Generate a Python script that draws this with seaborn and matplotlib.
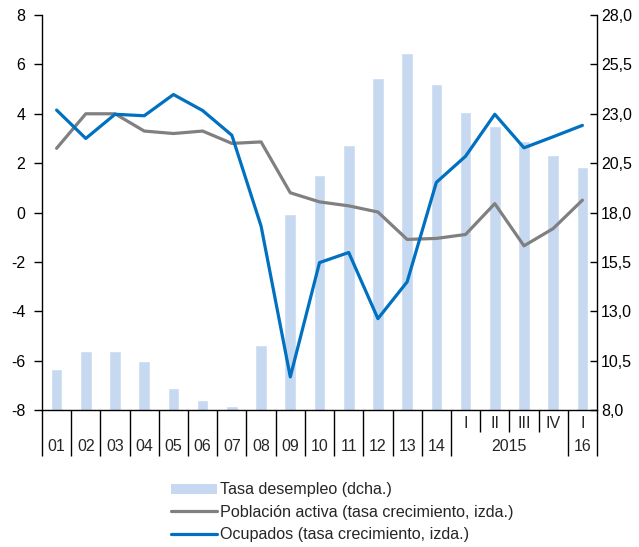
import numpy as np
import pandas as pd
import matplotlib
matplotlib.use("Agg")
import matplotlib.pyplot as plt
from matplotlib.patches import Patch
from matplotlib.lines import Line2D
from matplotlib.transforms import blended_transform_factory
import seaborn as sns

sns.set_style("white")
plt.rcParams["font.family"] = ["Liberation Sans", "DejaVu Sans"]
plt.rcParams["axes.unicode_minus"] = False

# Periods: annual 2001-2014, then quarters of 2015 and 2016-I
periods = ["01", "02", "03", "04", "05", "06", "07", "08", "09", "10",
           "11", "12", "13", "14", "2015-I", "2015-II", "2015-III",
           "2015-IV", "2016-I"]
annual_labels = ["01", "02", "03", "04", "05", "06", "07", "08", "09", "10",
                 "11", "12", "13", "14"]
quarter_labels = ["I", "II", "III", "IV", "I"]
quarter_years = ["2015", "2015", "2015", "2015", "16"]

# Unemployment rate (%, right axis)
unemployment = [10.1, 11.0, 11.0, 10.5, 9.1, 8.5, 8.2, 11.3, 17.9, 19.9,
                21.4, 24.8, 26.1, 24.5, 23.1, 22.4, 21.6, 20.9, 20.3]
# Labour force, growth rate (%, left axis)
labour_force = [2.6, 4.0, 4.0, 3.3, 3.2, 3.3, 2.8, 2.86, 0.8, 0.43,
                0.27, 0.02, -1.09, -1.05, -0.89, 0.36, -1.35, -0.65, 0.5]
# Employed, growth rate (%, left axis)
employed = [4.15, 3.0, 3.98, 3.92, 4.78, 4.13, 3.13, -0.55, -6.66, -2.03,
            -1.62, -4.3, -2.81, 1.22, 2.28, 3.98, 2.62, 3.07, 3.53]

df = pd.DataFrame({"period": periods, "pos": np.arange(len(periods)),
                   "unemployment": unemployment,
                   "labour_force": labour_force, "employed": employed})

BAR = "#C6D9F0"
GREY = "#808080"
BLUE = "#0070C0"

fig = plt.figure(figsize=(6.39, 5.47), dpi=100)
ax = fig.add_axes([0.0657, 0.2505, 0.8686, 0.722])

# Bars on the primary axes, whose scale is shown on the right
sns.barplot(data=df, x="period", y="unemployment", ax=ax, color=BAR,
            width=0.4, saturation=1, order=periods)
ax.set_xlabel("")
ax.set_ylabel("")

# Growth-rate lines on the twin axes, scale on the left
ax2 = ax.twinx()
sns.lineplot(data=df, x="pos", y="labour_force", ax=ax2, color=GREY,
             linewidth=2.3, legend=False)
sns.lineplot(data=df, x="pos", y="employed", ax=ax2, color=BLUE,
             linewidth=2.3, legend=False)
ax2.set_xlabel("")
ax2.set_ylabel("")

# Right-hand scale (unemployment)
ax.set_ylim(8, 28)
ax.set_xlim(-0.5, len(periods) - 0.5)
ax.yaxis.tick_right()
ax.yaxis.set_label_position("right")
ax.set_yticks([8, 10.5, 13, 15.5, 18, 20.5, 23, 25.5, 28])
ax.set_yticklabels([f"{v:.1f}".replace(".", ",") for v in ax.get_yticks()])
ax.tick_params(axis="y", direction="in", length=5, width=1, pad=3,
               labelsize=11.5, colors="black", right=True, left=False,
               labelright=True, labelleft=False)

# Category separators below the axis
long_sep = [i - 0.5 for i in range(15)] + [17.5, 18.5]
short_sep = [14.5, 15.5, 16.5]
ax.set_xticks(long_sep)
ax.set_xticks(short_sep, minor=True)
ax.set_xticklabels([])
ax.tick_params(axis="x", which="major", direction="out", length=33,
               width=1, colors="black", bottom=True)
ax.tick_params(axis="x", which="minor", direction="out", length=16,
               width=1, colors="black", bottom=True)
for s in ["top", "left"]:
    ax.spines[s].set_visible(False)
for s in ["right", "bottom"]:
    ax.spines[s].set_color("black")
    ax.spines[s].set_linewidth(1)

# Left-hand scale (growth rates)
ax2.set_ylim(-8, 8)
ax2.set_xlim(-0.5, len(periods) - 0.5)
ax2.yaxis.tick_left()
ax2.yaxis.set_label_position("left")
ax2.set_yticks(np.arange(-8, 9, 2))
ax2.set_yticklabels([str(v) for v in range(-8, 9, 2)])
ax2.tick_params(axis="y", direction="out", length=6, width=1, pad=6,
                labelsize=11.5, colors="black", left=True, right=False,
                labelleft=True, labelright=False)
for s in ["top", "right", "bottom"]:
    ax2.spines[s].set_visible(False)
ax2.spines["left"].set_color("black")
ax2.spines["left"].set_linewidth(1)

# Category labels
trans = blended_transform_factory(ax.transData, ax.transAxes)
low_y = -0.092
high_y = -0.033
for i, lab in enumerate(annual_labels):
    ax.text(i, low_y, lab, transform=trans, ha="center", va="center",
            fontsize=11.5)
n_ann = len(annual_labels)
for j, lab in enumerate(quarter_labels):
    ax.text(n_ann + j, high_y, lab, transform=trans, ha="center",
            va="center", fontsize=11.5)
for yr in dict.fromkeys(quarter_years):
    idx = [n_ann + j for j, y in enumerate(quarter_years) if y == yr]
    ax.text(np.mean(idx), low_y, yr, transform=trans, ha="center",
            va="center", fontsize=11.5)

handles = [Patch(facecolor=BAR, edgecolor="none"),
           Line2D([], [], color=GREY, linewidth=2.3),
           Line2D([], [], color=BLUE, linewidth=2.3)]
labels = ["Tasa desempleo (dcha.)",
          "Población activa (tasa crecimiento, izda.)",
          "Ocupados (tasa crecimiento, izda.)"]
fig.legend(handles, labels, loc="upper left", bbox_to_anchor=(0.268, 0.118),
           frameon=False, fontsize=11.6, handlelength=2.85, handleheight=0.6,
           handletextpad=0.2, labelspacing=0.45, borderpad=0,
           borderaxespad=0)

fig.savefig("out.png", dpi=100)
